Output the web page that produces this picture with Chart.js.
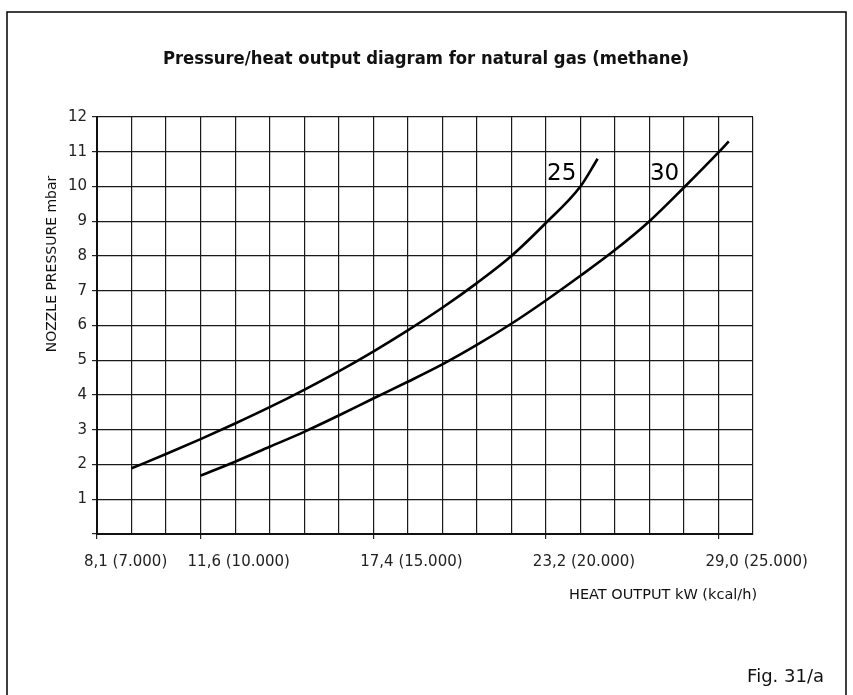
<!DOCTYPE html>
<html>
<head>
<meta charset="utf-8">
<script src="https://cdn.jsdelivr.net/npm/chart.js@4.4.1/dist/chart.umd.min.js"></script>
<style>
  body { margin: 0; background: #fff; }
</style>
</head>
<body>
<canvas id="myChart" width="853" height="695"></canvas>
<script>
// Heat output in thousands of kcal/h, nozzle pressure in mbar
let heatOutput25 = [8, 9, 10, 11, 12, 13, 14, 15, 16, 17, 18, 19, 20, 21, 21.5];
let pressure25 = [1.89, 2.3, 2.73, 3.18, 3.65, 4.15, 4.68, 5.25, 5.86, 6.51, 7.22, 8.0, 8.95, 10.0, 10.8];

let heatOutput30 = [10, 11, 12, 13, 14, 15, 16, 17, 18, 19, 20, 21, 22, 23, 24, 25, 25.3];
let pressure30 = [1.68, 2.08, 2.51, 2.94, 3.41, 3.9, 4.38, 4.88, 5.44, 6.05, 6.72, 7.43, 8.17, 9.0, 9.97, 10.98, 11.3];

let curveNames = ["25", "30"];

// x tick labels: kW (kcal/h)
let xTickValues = [7, 10, 15, 20, 25];
let xTickLabels = ["8,1 (7.000)", "11,6 (10.000)", "17,4 (15.000)", "23,2 (20.000)", "29,0 (25.000)"];

let toPoints = (xs, ys) => xs.map((x, i) => ({ x: x, y: ys[i] }));

// Frame, title, axis captions and curve names
let textPlugin = {
  id: "texts",
  afterDraw(chart) {
    let c = chart.ctx;
    let x = chart.scales.x;
    let y = chart.scales.y;
    c.save();
    c.strokeStyle = "#000";
    c.lineWidth = 1.5;
    c.strokeRect(7, 12, 839, 700);

    c.fillStyle = "#111";
    c.textBaseline = "middle";
    c.textAlign = "center";
    c.font = 'bold 18.3px "DejaVu Sans Condensed"';
    c.fillText("Pressure/heat output diagram for natural gas (methane)", 426, 59);

    c.textBaseline = "alphabetic";
    c.font = '14.5px "DejaVu Sans"';
    c.textAlign = "left";
    c.fillText("HEAT OUTPUT kW (kcal/h)", 569, 598.5);

    c.font = '18px "DejaVu Sans"';
    c.textAlign = "right";
    c.fillText("Fig. 31/a", 824, 682);

    c.font = '23px "DejaVu Sans"';
    c.textAlign = "center";
    c.fillStyle = "#000";
    c.fillText(curveNames[0], x.getPixelForValue(20.46), y.getPixelForValue(10.2));
    c.fillText(curveNames[1], x.getPixelForValue(23.44), y.getPixelForValue(10.2));

    c.fillStyle = "#111";
    c.font = '14px "DejaVu Sans"';
    c.translate(56, 264);
    c.rotate(-Math.PI / 2);
    c.fillText("NOZZLE PRESSURE mbar", 0, 0);
    c.restore();
  },
};

let ctx = document.getElementById("myChart").getContext("2d");

let myChart = new Chart(ctx, {
  type: "line",
  data: {
    datasets: [
      {
        label: curveNames[0],
        data: toPoints(heatOutput25, pressure25),
        borderColor: "#000",
        borderWidth: 2.6,
        pointRadius: 0,
        cubicInterpolationMode: "monotone",
      },
      {
        label: curveNames[1],
        data: toPoints(heatOutput30, pressure30),
        borderColor: "#000",
        borderWidth: 2.6,
        pointRadius: 0,
        cubicInterpolationMode: "monotone",
      },
    ],
  },
  options: {
    responsive: false,
    animation: false,
    layout: {
      padding: { left: 47, top: 117, right: 100, bottom: 121 },
    },
    plugins: {
      legend: { display: false },
      tooltip: { enabled: false },
    },
    scales: {
      x: {
        type: "linear",
        min: 7,
        max: 26,
        afterFit: (scale) => {
          scale.height = 40;
        },
        ticks: {
          stepSize: 1,
          autoSkip: false,
          maxRotation: 0,
          align: "start",
          labelOffset: -13,
          padding: 14,
          color: "#222",
          font: { family: "DejaVu Sans", size: 15 },
          callback: (v) => {
            let i = xTickValues.indexOf(v);
            return i >= 0 ? xTickLabels[i] : "";
          },
        },
        grid: {
          color: "#1a1a1a",
          lineWidth: 1.2,
          tickLength: 5,
          tickColor: (c) => (c.tick && xTickValues.includes(c.tick.value) ? "#222" : "rgba(0,0,0,0)"),
        },
        border: { color: "#111", width: 2 },
      },
      y: {
        min: 0,
        max: 12,
        afterFit: (scale) => {
          scale.width = 50;
        },
        ticks: {
          stepSize: 1,
          padding: 5,
          color: "#222",
          font: { family: "DejaVu Sans", size: 15 },
          callback: (v) => (v === 0 ? "" : v),
        },
        grid: {
          color: "#1a1a1a",
          lineWidth: 1.2,
          tickLength: 5,
          tickColor: "#222",
        },
        border: { color: "#111", width: 2 },
      },
    },
  },
  plugins: [textPlugin],
});
</script>
</body>
</html>
